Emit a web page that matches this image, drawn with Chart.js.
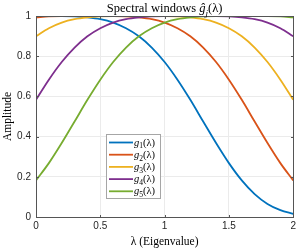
<!DOCTYPE html>
<html>
<head>
<meta charset="utf-8">
<script src="https://cdn.jsdelivr.net/npm/chart.js@4"></script>
<style>
html, body { margin: 0; padding: 0; background: #fff; }
</style>
</head>
<body>
<canvas id="chart" width="299" height="249"></canvas>
<script>
// eigenvalue samples (x axis)
const lambdas = [0, 0.1, 0.2, 0.3, 0.4, 0.5, 0.6, 0.7, 0.8, 0.9, 1.0,
                 1.1, 1.2, 1.3, 1.4, 1.5, 1.6, 1.7, 1.8, 1.9, 2.0];

// window amplitudes
const g1 = [1, 1, 1, 0.998, 0.993, 0.984, 0.967, 0.939, 0.899, 0.843, 0.771,
            0.683, 0.583, 0.475, 0.368, 0.268, 0.182, 0.114, 0.065, 0.034, 0.016];
const g2 = [0.993, 0.998, 1, 1, 1, 1, 1, 0.998, 0.993, 0.984, 0.967,
            0.939, 0.899, 0.843, 0.771, 0.683, 0.583, 0.475, 0.368, 0.268, 0.182];
const g3 = [0.899, 0.939, 0.967, 0.984, 0.993, 0.998, 1, 1, 1, 1, 1,
            0.998, 0.993, 0.984, 0.967, 0.939, 0.899, 0.843, 0.771, 0.683, 0.583];
const g4 = [0.583, 0.683, 0.771, 0.843, 0.899, 0.939, 0.967, 0.984, 0.993, 0.998, 1,
            1, 1, 1, 1, 0.998, 0.993, 0.984, 0.967, 0.939, 0.899];
const g5 = [0.182, 0.268, 0.368, 0.475, 0.583, 0.683, 0.771, 0.843, 0.899, 0.939, 0.967,
            0.984, 0.993, 0.998, 1, 1, 1, 1, 1, 0.998, 0.993];

const seriesNames = ['1', '2', '3', '4', '5'];
const seriesData = [g1, g2, g3, g4, g5];
const colors = ['#0072BD', '#D95319', '#EDB120', '#7E2F8E', '#77AC30'];

const xTicks = [0, 0.5, 1, 1.5, 2];
const yTicks = [0, 0.2, 0.4, 0.6, 0.8, 1];

const serif = '"Liberation Serif", "DejaVu Serif", serif';
const sans = '"Liberation Sans", Arial, sans-serif';
const textColor = '#262626';

function partFont(p, size) {
    let s = p.sub ? size * 0.72 : size;
    return (p.i ? 'italic ' : '') + s + 'px ' + serif;
}

// draws text made of pieces (italic / subscript)
function drawRich(ctx, parts, x, y, size, align) {
    let total = 0;
    parts.forEach(function(p) {
        ctx.font = partFont(p, size);
        p.w = ctx.measureText(p.t).width;
        total += p.w;
    });
    let cx = align === 'center' ? x - total / 2 : x;
    ctx.textAlign = 'left';
    ctx.textBaseline = 'alphabetic';
    parts.forEach(function(p) {
        ctx.font = partFont(p, size);
        ctx.fillText(p.t, cx, y + (p.sub ? size * 0.28 : 0));
        cx += p.w;
    });
}

const decorPlugin = {
    id: 'decor',
    afterDraw: function(chart) {
        const ctx = chart.ctx;
        const a = chart.chartArea;
        const xs = chart.scales.x, ys = chart.scales.y;
        ctx.save();

        // box around axes
        ctx.strokeStyle = '#555';
        ctx.lineWidth = 1;
        const L = Math.round(a.left) + 0.5, T = Math.round(a.top) + 0.5;
        const R = Math.round(a.right) + 0.5, B = Math.round(a.bottom) + 0.5;
        ctx.strokeRect(L, T, R - L, B - T);

        // small inward ticks
        ctx.beginPath();
        xTicks.forEach(function(v) {
            const px = Math.round(xs.getPixelForValue(v)) + 0.5;
            ctx.moveTo(px, B); ctx.lineTo(px, B - 2.5);
            ctx.moveTo(px, T); ctx.lineTo(px, T + 2.5);
        });
        yTicks.forEach(function(v) {
            const py = Math.round(ys.getPixelForValue(v)) + 0.5;
            ctx.moveTo(L, py); ctx.lineTo(L + 2.5, py);
            ctx.moveTo(R, py); ctx.lineTo(R - 2.5, py);
        });
        ctx.stroke();

        ctx.fillStyle = '#000';
        // title
        drawRich(ctx, [
            {t: 'Spectral windows '},
            {t: 'ĝ', i: true},
            {t: 'j', i: true, sub: true},
            {t: '(λ)'}
        ], (a.left + a.right) / 2, 12, 12.5, 'center');

        // x label
        drawRich(ctx, [{t: 'λ (Eigenvalue)'}], (a.left + a.right) / 2, 245, 11.5, 'center');

        // y label
        ctx.save();
        ctx.translate(11, (a.top + a.bottom) / 2);
        ctx.rotate(-Math.PI / 2);
        drawRich(ctx, [{t: 'Amplitude'}], 0, 0, 11.5, 'center');
        ctx.restore();

        // legend
        const lx = 106, ly = 134, lw = 54, lh = 64;
        ctx.fillStyle = '#fff';
        ctx.fillRect(lx, ly, lw, lh);
        ctx.strokeStyle = '#a6a6a6';
        ctx.lineWidth = 1;
        ctx.strokeRect(lx + 0.5, ly + 0.5, lw, lh);
        for (let i = 0; i < seriesNames.length; i++) {
            const ry = ly + 8.5 + i * 12.2;
            ctx.strokeStyle = colors[i];
            ctx.lineWidth = 1.8;
            ctx.beginPath();
            ctx.moveTo(109, ry);
            ctx.lineTo(133, ry);
            ctx.stroke();
            ctx.fillStyle = '#000';
            drawRich(ctx, [
                {t: 'g', i: true},
                {t: seriesNames[i], sub: true},
                {t: '(λ)'}
            ], 134, ry + 3, 10.5, 'left');
        }
        ctx.restore();
    }
};

const datasets = seriesData.map(function(vals, i) {
    return {
        label: 'g' + seriesNames[i],
        data: lambdas.map(function(l, k) { return {x: l, y: vals[k]}; }),
        borderColor: colors[i],
        backgroundColor: colors[i],
        borderWidth: 1.8,
        pointRadius: 0,
        cubicInterpolationMode: 'monotone',
        fill: false,
        order: 5 - i
    };
});

const ctx = document.getElementById('chart').getContext('2d');
new Chart(ctx, {
    type: 'line',
    data: { datasets: datasets },
    options: {
        responsive: false,
        animation: false,
        events: [],
        layout: { padding: { left: 0, right: 3, top: 16, bottom: 0 } },
        plugins: {
            legend: { display: false },
            title: { display: false },
            tooltip: { enabled: false }
        },
        scales: {
            x: {
                type: 'linear',
                min: 0,
                max: 2,
                afterFit: function(scale) { scale.height = 32; },
                afterBuildTicks: function(scale) {
                    scale.ticks = xTicks.map(function(v) { return {value: v}; });
                },
                ticks: {
                    color: textColor,
                    font: { family: sans, size: 10 },
                    padding: 3,
                    maxRotation: 0,
                    callback: function(v) { return String(v); }
                },
                grid: { color: '#ebebeb', drawTicks: false },
                border: { display: false }
            },
            y: {
                type: 'linear',
                min: 0,
                max: 1,
                afterFit: function(scale) { scale.width = 36; },
                afterBuildTicks: function(scale) {
                    scale.ticks = yTicks.map(function(v) { return {value: v}; });
                },
                ticks: {
                    color: textColor,
                    font: { family: sans, size: 10 },
                    padding: 5,
                    callback: function(v) { return String(v); }
                },
                grid: { color: '#ebebeb', drawTicks: false },
                border: { display: false }
            }
        }
    },
    plugins: [decorPlugin]
});
</script>
</body>
</html>
